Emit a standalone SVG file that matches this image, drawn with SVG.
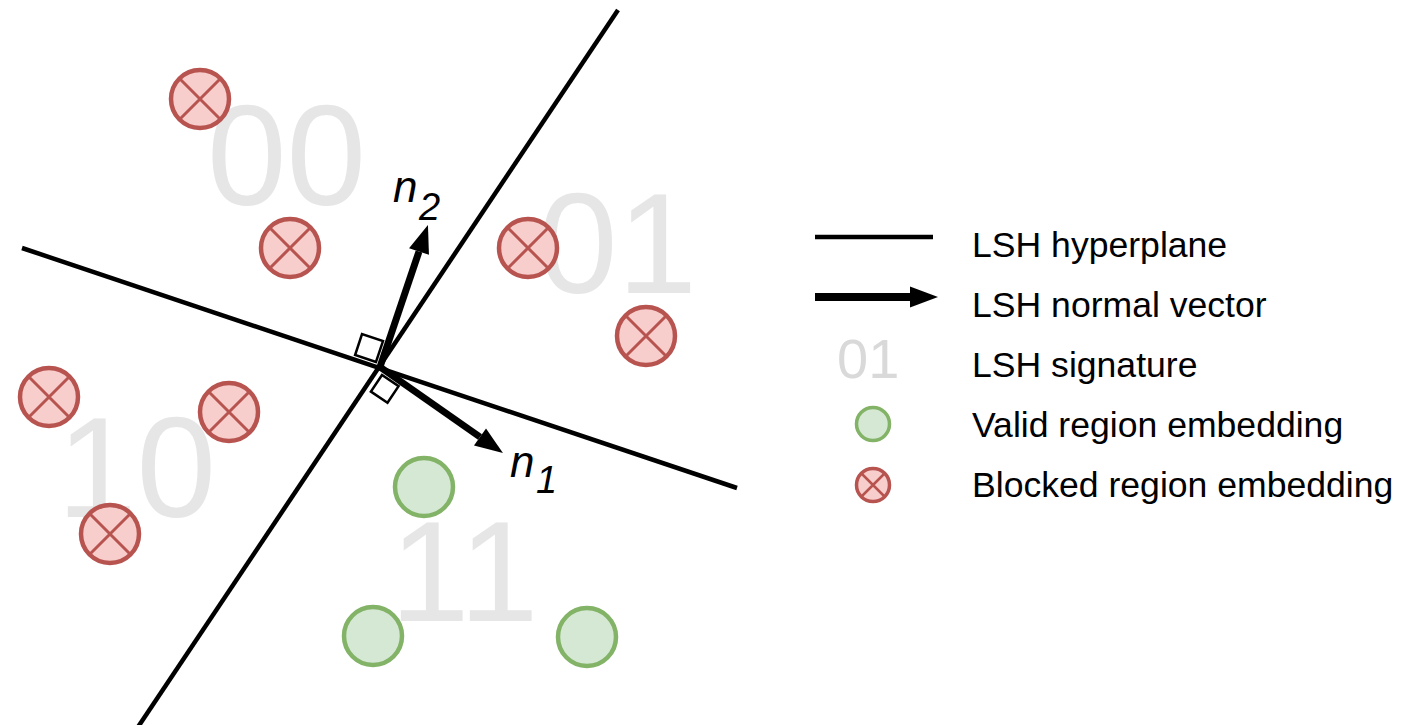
<svg xmlns="http://www.w3.org/2000/svg" width="1408" height="725" viewBox="0 0 1408 725">
  <style>
    .sig { font-family: "Liberation Sans", Arial, sans-serif; font-size: 143px; fill: #e6e6e6; }
    .lbl { font-family: "Liberation Sans", Arial, sans-serif; font-size: 35.6px; fill: #000; }
    .vec { font-family: "Liberation Sans", Arial, sans-serif; font-style: italic; fill: #000; }
    .plane { stroke: #000; stroke-width: 4.5; fill: none; }
    .normal { stroke: #000; stroke-width: 7; fill: none; marker-end: url(#head); }
    .ortho { stroke: #000; stroke-width: 2.5; fill: none; }
    .valid { fill: #d5e8d4; stroke: #82b366; stroke-width: 4.5; }
    .blocked { fill: #f8cecc; stroke: #b85450; stroke-width: 4.5; }
    .cross { stroke: #b85450; stroke-width: 3; }
  </style>
  <defs>
    <marker id="head" markerUnits="userSpaceOnUse" markerWidth="40" markerHeight="40" viewBox="0 -20 40 40" refX="0" refY="0" orient="auto" overflow="visible">
      <path d="M0,-10.5 L28,0 L0,10.5 z" fill="#000"/>
    </marker>
    <g id="blk">
      <circle r="29" class="blocked"/>
      <path d="M-20.5,-20.5 L20.5,20.5 M20.5,-20.5 L-20.5,20.5" class="cross"/>
    </g>
    <g id="blk-small">
      <circle r="16.5" class="blocked" style="stroke-width:3.5"/>
      <path d="M-11.5,-11.5 L11.5,11.5 M11.5,-11.5 L-11.5,11.5" class="cross" style="stroke-width:2.5"/>
    </g>
  </defs>

  <!-- bucket signatures -->
  <g id="signatures">
    <text class="sig" x="207" y="205">00</text>
    <text class="sig" x="538" y="293">01</text>
    <text class="sig" x="57" y="517">10</text>
    <text class="sig" x="390" y="621">11</text>
  </g>

  <!-- embeddings -->
  <g id="blocked-embeddings">
    <use href="#blk" x="200" y="99"/>
    <use href="#blk" x="290" y="248"/>
    <use href="#blk" x="528" y="248"/>
    <use href="#blk" x="646" y="336"/>
    <use href="#blk" x="49" y="397"/>
    <use href="#blk" x="229" y="412"/>
    <use href="#blk" x="110" y="534"/>
  </g>
  <g id="valid-embeddings">
    <circle cx="424" cy="487" r="29" class="valid"/>
    <circle cx="373" cy="636" r="29" class="valid"/>
    <circle cx="587" cy="637" r="29" class="valid"/>
  </g>

  <!-- hyperplanes, normals and right-angle marks -->
  <g id="connectors">
    <line id="plane-1" class="plane" x1="618" y1="10" x2="138" y2="727"/>
    <line id="plane-2" class="plane" x1="22" y1="248" x2="737" y2="488"/>
    <path id="ortho-2" class="ortho" d="M376,362 L355.1,355 L362,334 L383,341.1 Z"/>
    <path id="ortho-1" class="ortho" d="M382,375 L370.9,391.6 L387.5,402.8 L398.6,386.1 Z"/>
    <line id="normal-2" class="normal" x1="380" y1="367" x2="419" y2="251.5"/>
    <line id="normal-1" class="normal" x1="380" y1="367" x2="480" y2="437"/>
  </g>

  <g id="normal-labels">
    <text class="vec" x="393" y="202" font-size="44">n</text>
    <text class="vec" x="419" y="220" font-size="38">2</text>
    <text class="vec" x="510" y="477" font-size="44">n</text>
    <text class="vec" x="536" y="493" font-size="38">1</text>
  </g>

  <!-- legend -->
  <g id="legend">
    <line class="plane" x1="815" y1="237" x2="933" y2="237"/>
    <line class="normal" x1="815" y1="297" x2="910" y2="297" style="stroke-width:8"/>
    <text x="837" y="378" font-family="Liberation Sans, Arial, sans-serif" font-size="56" fill="#d9d9d9">01</text>
    <circle cx="873" cy="424" r="16.5" class="valid" style="stroke-width:3.5"/>
    <use href="#blk-small" x="873" y="485"/>
    <text class="lbl" x="972" y="257">LSH hyperplane</text>
    <text class="lbl" x="972" y="317">LSH normal vector</text>
    <text class="lbl" x="972" y="377">LSH signature</text>
    <text class="lbl" x="972" y="437">Valid region embedding</text>
    <text class="lbl" x="972" y="497">Blocked region embedding</text>
  </g>
</svg>
